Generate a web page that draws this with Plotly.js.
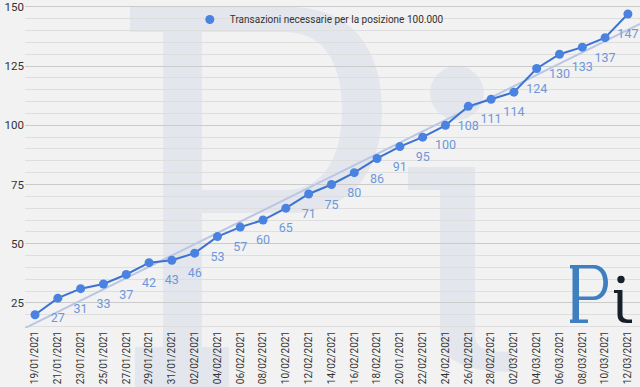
<!DOCTYPE html>
<html>
<head>
<meta charset="utf-8">
<script src="https://cdn.plot.ly/plotly-3.0.1.min.js"></script>
<style>html,body{margin:0;padding:0;background:#f2f2f2;}#chart{width:640px;height:387px;}</style>
</head>
<body>
<div id="chart"></div>
<script>
// ---- data ----
const dates = ["19/01/2021","21/01/2021","23/01/2021","25/01/2021","27/01/2021","29/01/2021","31/01/2021",
  "02/02/2021","04/02/2021","06/02/2021","08/02/2021","10/02/2021","12/02/2021","14/02/2021","16/02/2021",
  "18/02/2021","20/01/2021","22/02/2021","24/02/2021","26/02/2021","28/02/2021","02/03/2021","04/03/2021",
  "06/03/2021","08/03/2021","10/03/2021","12/03/2021"];
const transactions = [20,27,31,33,37,42,43,46,53,57,60,65,71,75,80,86,91,95,100,108,111,114,124,130,133,137,147];
const seriesName = "Transazioni necessarie per la posizione 100.000";
const yTicks = [25,50,75,100,125,150];

// ---- derived: category positions and least-squares trend line ----
const idx = dates.map((d,i)=>i);
const n = transactions.length;
const mx = idx.reduce((a,b)=>a+b,0)/n;
const my = transactions.reduce((a,b)=>a+b,0)/n;
let sxy=0, sxx=0;
idx.forEach((x,i)=>{sxy+=(x-mx)*(transactions[i]-my); sxx+=(x-mx)*(x-mx);});
const slope = sxy/sxx, icpt = my - slope*mx;
const xRange = [-0.44, 26.53];
const trendX = xRange;
const trendY = trendX.map(x=>icpt+slope*x);

// ---- decoration (watermark + logo), pixel -> paper helpers ----
const L=25, R=640, T=5, B=328;
const X = px => ((px-L)/(R-L)).toFixed(4);
const Y = py => ((B-py)/(B-T)).toFixed(4);
const wm = 'rgba(196,208,228,0.33)';
const pPath =
  `M${X(130)},${Y(7)} L${X(290)},${Y(7)} C${X(348)},${Y(7)} ${X(382)},${Y(45)} ${X(382)},${Y(110)} ` +
  `C${X(382)},${Y(175)} ${X(348)},${Y(213)} ${X(290)},${Y(213)} L${X(202)},${Y(213)} L${X(202)},${Y(347)} ` +
  `L${X(229)},${Y(347)} L${X(229)},${Y(390)} L${X(135)},${Y(390)} L${X(135)},${Y(347)} L${X(163)},${Y(347)} ` +
  `L${X(163)},${Y(32)} L${X(130)},${Y(32)} Z ` +
  `M${X(202)},${Y(32)} L${X(285)},${Y(32)} C${X(325)},${Y(32)} ${X(342)},${Y(65)} ${X(342)},${Y(110)} ` +
  `C${X(342)},${Y(155)} ${X(325)},${Y(190)} ${X(285)},${Y(190)} L${X(202)},${Y(190)} Z`;
const iPath =
  `M${X(408)},${Y(167)} L${X(475)},${Y(167)} L${X(475)},${Y(335)} C${X(475)},${Y(350)} ${X(490)},${Y(352)} ${X(512)},${Y(352)} ` +
  `L${X(512)},${Y(372)} C${X(465)},${Y(372)} ${X(440)},${Y(360)} ${X(440)},${Y(335)} L${X(440)},${Y(190)} L${X(408)},${Y(190)} Z`;

// small logo bottom-right
const logoP =
  `M${X(570)},${Y(265)} L${X(594)},${Y(265)} C${X(602)},${Y(265)} ${X(608)},${Y(272)} ${X(608)},${Y(282.5)} ` +
  `C${X(608)},${Y(293)} ${X(602)},${Y(300)} ${X(594)},${Y(300)} L${X(579)},${Y(300)} L${X(579)},${Y(319.5)} ` +
  `L${X(588)},${Y(319.5)} L${X(588)},${Y(323)} L${X(570)},${Y(323)} L${X(570)},${Y(319.5)} L${X(572.5)},${Y(319.5)} ` +
  `L${X(572.5)},${Y(268.5)} L${X(570)},${Y(268.5)} Z ` +
  `M${X(579)},${Y(268.5)} L${X(593)},${Y(268.5)} C${X(599)},${Y(268.5)} ${X(603.3)},${Y(274)} ${X(603.3)},${Y(282.5)} ` +
  `C${X(603.3)},${Y(291)} ${X(599)},${Y(296.5)} ${X(593)},${Y(296.5)} L${X(579)},${Y(296.5)} Z`;
const logoI =
  `M${X(614)},${Y(290)} L${X(622.5)},${Y(290)} L${X(622.5)},${Y(314)} C${X(622.5)},${Y(318)} ${X(625)},${Y(319.5)} ${X(629)},${Y(319.5)} ` +
  `L${X(632)},${Y(319.5)} L${X(632)},${Y(323)} L${X(627)},${Y(323)} C${X(620)},${Y(323)} ${X(617.5)},${Y(320)} ${X(617.5)},${Y(314)} ` +
  `L${X(617.5)},${Y(293)} L${X(614)},${Y(293)} Z`;

const shapes = [
  {type:'path', xref:'paper', yref:'paper', path:pPath, fillrule:'evenodd', fillcolor:wm, line:{width:0}, layer:'below'},
  {type:'path', xref:'paper', yref:'paper', path:iPath, fillcolor:wm, line:{width:0}, layer:'below'},
  {type:'circle', xref:'paper', yref:'paper', x0:X(430), x1:X(484), y0:Y(120), y1:Y(66), fillcolor:wm, line:{width:0}, layer:'below'},
  {type:'path', xref:'paper', yref:'paper', path:logoP, fillrule:'evenodd', fillcolor:'#3f7fc0', line:{width:0}, layer:'above'},
  {type:'path', xref:'paper', yref:'paper', path:logoI, fillcolor:'#16202b', line:{width:0}, layer:'above'},
  {type:'circle', xref:'paper', yref:'paper', x0:X(617.3), x1:X(624.7), y0:Y(283.2), y1:Y(275.8), fillcolor:'#16202b', line:{width:0}, layer:'above'}
];

const traces = [
  {x:trendX, y:trendY, mode:'lines', line:{color:'#b9c7e4', width:2}, showlegend:false, hoverinfo:'skip'},
  {x:idx, y:transactions, name:seriesName, mode:'lines+markers', showlegend:false,
   line:{color:'#3c72d0', width:2}, marker:{color:'#4a82e2', size:9}},
  {x:idx, y:transactions, mode:'markers+text', text:transactions.map(String), textposition:'bottom center',
   marker:{size:22, color:'rgba(0,0,0,0)'}, textfont:{family:'Roboto', size:12.5, color:'#6f97d8'},
   cliponaxis:true, showlegend:false, hoverinfo:'skip'},
  // legend entry (marker only, as in the reference)
  {x:[null], y:[null], name:seriesName, mode:'markers', marker:{color:'#4a82e2', size:9}, showlegend:true}
];

const layout = {
  width:640, height:387,
  margin:{l:L, r:0, t:T, b:387-B},
  paper_bgcolor:'#f2f2f2', plot_bgcolor:'rgba(0,0,0,0)',
  font:{family:'Roboto', color:'#333'},
  showlegend:true,
  legend:{x:0.268, y:1.0, xanchor:'left', yanchor:'top', bgcolor:'rgba(0,0,0,0)', font:{size:10, color:'#333'}},
  xaxis:{range:xRange, tickmode:'array', tickvals:idx, ticktext:dates, tickangle:-90,
         tickfont:{size:10, color:'#333'}, showgrid:false, zeroline:false, showline:false, ticks:''},
  yaxis:{range:[14.4,150.8], tickmode:'array', tickvals:yTicks, tickfont:{size:11.5, color:'#333'},
         ticklabeloverflow:'allow',
         gridcolor:'#cbcbcb', gridwidth:1, zeroline:false, showline:false, ticks:'',
         minor:{dtick:5, tick0:0, showgrid:true, gridcolor:'#dedede', gridwidth:1}},
  shapes:shapes
};

Plotly.newPlot('chart', traces, layout, {displayModeBar:false, staticPlot:true});
</script>
</body>
</html>
